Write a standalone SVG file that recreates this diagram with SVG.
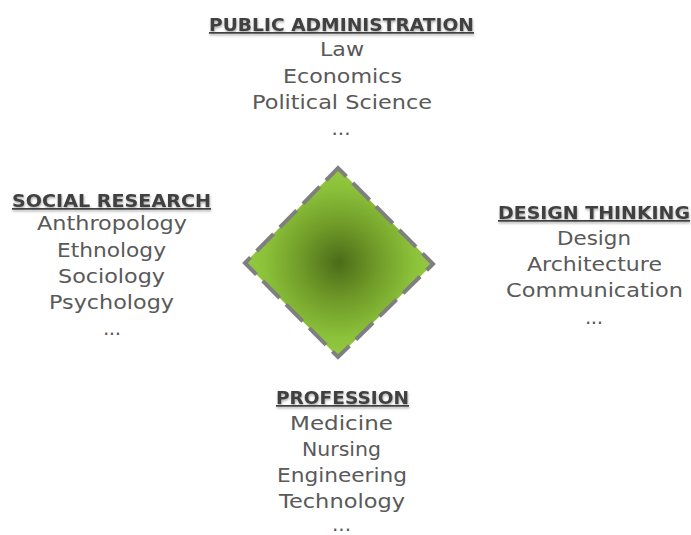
<svg xmlns="http://www.w3.org/2000/svg" width="691" height="535" viewBox="0 0 691 535">
<defs>
<radialGradient id="g" cx="50%" cy="50%" r="50%">
<stop offset="0" stop-color="#4b6b19"/>
<stop offset="0.4" stop-color="#6f9a28"/>
<stop offset="0.8" stop-color="#8cc23a"/>
<stop offset="1" stop-color="#94c93f"/>
</radialGradient>
<filter id="sh" x="-5%" y="-20%" width="110%" height="160%">
<feDropShadow dx="0.5" dy="1.5" stdDeviation="1" flood-color="#000" flood-opacity="0.35"/>
</filter>
</defs>
<style>
text{font-family:"DejaVu Sans","Liberation Sans",sans-serif;text-anchor:middle;}
.h{font-size:17px;font-weight:bold;fill:#404040;text-decoration:underline;}
.b{font-size:19px;fill:#595959;}
.d{font-size:20px;fill:#595959;}
</style>
<rect width="691" height="535" fill="#ffffff"/>
<g id="center">
<polygon points="338,168 433,264 338,357 245,263" fill="url(#g)" stroke="#7f7f7f" stroke-width="4" stroke-dasharray="24 9" stroke-dashoffset="12"/>
</g>
<g id="connectors"></g>
<g id="public-administration">
<g filter="url(#sh)"><text class="h" x="341.5" y="31" textLength="265" lengthAdjust="spacingAndGlyphs">PUBLIC ADMINISTRATION</text></g>
<text class="b" x="342" y="56" textLength="44" lengthAdjust="spacingAndGlyphs">Law</text>
<text class="b" x="342.5" y="83" textLength="119" lengthAdjust="spacingAndGlyphs">Economics</text>
<text class="b" x="342" y="109" textLength="180" lengthAdjust="spacingAndGlyphs">Political Science</text>
<text class="d" x="341" y="135" textLength="19" lengthAdjust="spacing">...</text>
</g>
<g id="social-research">
<g filter="url(#sh)"><text class="h" x="111.5" y="207" textLength="199" lengthAdjust="spacingAndGlyphs">SOCIAL RESEARCH</text></g>
<text class="b" x="112" y="230" textLength="150" lengthAdjust="spacingAndGlyphs">Anthropology</text>
<text class="b" x="111.5" y="257" textLength="109" lengthAdjust="spacingAndGlyphs">Ethnology</text>
<text class="b" x="111.5" y="283" textLength="107" lengthAdjust="spacingAndGlyphs">Sociology</text>
<text class="b" x="111.5" y="309" textLength="125" lengthAdjust="spacingAndGlyphs">Psychology</text>
<text class="d" x="112" y="335" textLength="18" lengthAdjust="spacing">...</text>
</g>
<g id="design-thinking">
<g filter="url(#sh)"><text class="h" x="594" y="219" textLength="192" lengthAdjust="spacingAndGlyphs">DESIGN THINKING</text></g>
<text class="b" x="594" y="245" textLength="74" lengthAdjust="spacingAndGlyphs">Design</text>
<text class="b" x="594.5" y="271" textLength="135" lengthAdjust="spacingAndGlyphs">Architecture</text>
<text class="b" x="594.5" y="297" textLength="177" lengthAdjust="spacingAndGlyphs">Communication</text>
<text class="d" x="594" y="324" textLength="18" lengthAdjust="spacing">...</text>
</g>
<g id="profession">
<g filter="url(#sh)"><text class="h" x="342.5" y="404" textLength="133" lengthAdjust="spacingAndGlyphs">PROFESSION</text></g>
<text class="b" x="341.5" y="430" textLength="103" lengthAdjust="spacingAndGlyphs">Medicine</text>
<text class="b" x="341.5" y="456" textLength="79" lengthAdjust="spacingAndGlyphs">Nursing</text>
<text class="b" x="342" y="482" textLength="130" lengthAdjust="spacingAndGlyphs">Engineering</text>
<text class="b" x="342" y="508" textLength="126" lengthAdjust="spacingAndGlyphs">Technology</text>
<text class="d" x="341.5" y="531" textLength="19" lengthAdjust="spacing">...</text>
</g>
</svg>
